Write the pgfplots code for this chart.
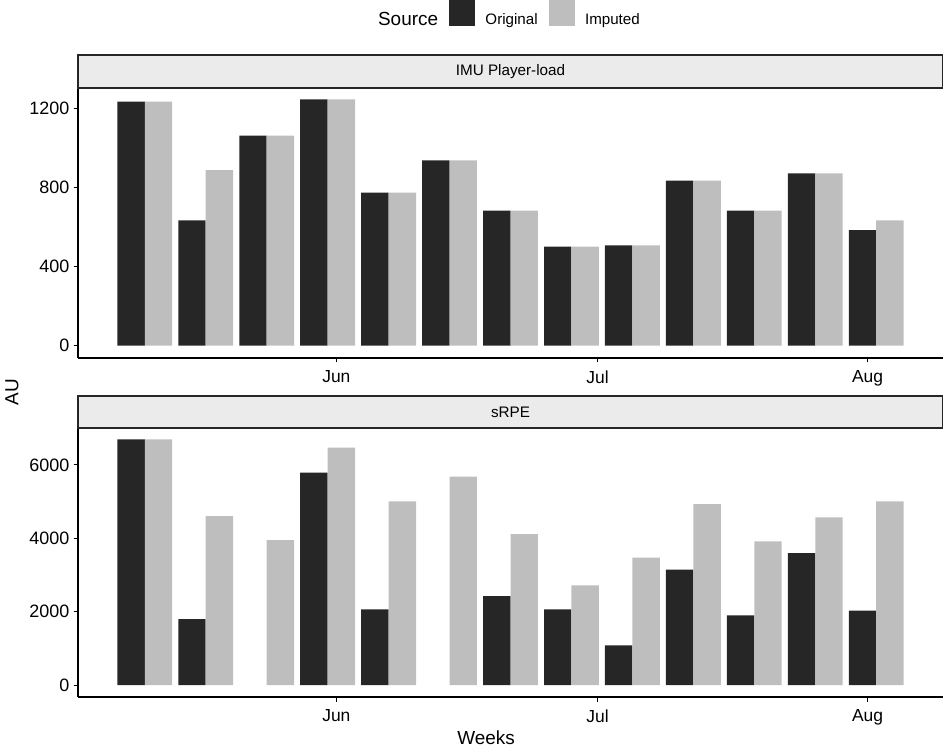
\documentclass[border=0pt]{standalone}
\usepackage{pgfplots}
\pgfplotsset{compat=1.18}
\usepackage{fontspec}
\setmainfont{Liberation Sans}
\definecolor{darkbar}{HTML}{262626}
\definecolor{lightbar}{HTML}{BEBEBE}
\definecolor{stripfill}{HTML}{EBEBEB}
\begin{document}
\begin{tikzpicture}
\useasboundingbox (0,0) rectangle (945bp,747bp);
\pgfplotsset{
  panel/.style={
    scale only axis, width=865bp,
    xmin=-29.67, xmax=69.67,
    axis x line*=bottom, axis y line*=left,
    axis line style={line width=1.1bp, black},
    every tick/.style={black, line width=1bp},
    tick align=outside, major tick length=4.5bp,
    xtick={0,30,61}, xticklabels={Jun,Jul,Aug},
    /pgf/number format/assume math mode=true,
    /pgf/number format/1000 sep={},
    yticklabel style={font=\fontsize{18}{18}\selectfont, inner sep=0pt, xshift=-4bp},
    xticklabel style={font=\fontsize{17.5}{17.5}\selectfont, inner sep=0pt, yshift=-8bp},
    clip=false,
  },
  darkb/.style={ybar, bar width=3.15, fill=darkbar, draw=none, forget plot},
  lightb/.style={ybar, bar width=3.15, fill=lightbar, draw=none, forget plot},
}
% ---------- top panel: IMU Player-load ----------
\begin{axis}[panel, at={(78bp,389bp)}, anchor=south west, height=270bp,
  ymin=-62, ymax=1301, ytick={0,400,800,1200},
  legend columns=-1,
  legend style={at={(axis description cs:0.334,1.276)}, anchor=west, draw=none, fill=none,
    inner sep=0pt, column sep=11bp, font=\fontsize{15.2}{15.2}\selectfont,
    nodes={inner sep=0pt}},
]
\addplot[darkb] coordinates {(-23.575,1232) (-16.575,633) (-9.575,1060) (-2.575,1244) (4.425,773) (11.425,935) (18.425,682) (25.425,500) (32.425,507) (39.425,833) (46.425,682) (53.425,870) (60.425,584)};
\addplot[lightb] coordinates {(-20.425,1232) (-13.425,887) (-6.425,1060) (0.575,1244) (7.575,773) (14.575,935) (21.575,682) (28.575,500) (35.575,507) (42.575,833) (49.575,682) (56.575,870) (63.575,633)};
\addlegendimage{empty legend}
\addlegendentry{\fontsize{19}{19}\selectfont Source}
\addlegendimage{legend image code/.code={\fill[darkbar] (0bp,-5.5bp) rectangle (25bp,19.5bp);}}
\addlegendentry{Original}
\addlegendimage{legend image code/.code={\fill[lightbar] (0bp,-5.5bp) rectangle (25bp,19.5bp);}}
\addlegendentry{Imputed}
\draw[fill=stripfill, draw=black!85, line width=1.1bp] (rel axis cs:0,1) rectangle (rel axis cs:0.999,1.1222);
\node[font=\fontsize{15.3}{15.3}\selectfont] at (rel axis cs:0.5,1.0611) {IMU Player-load};
\end{axis}
% ---------- bottom panel: sRPE ----------
\begin{axis}[panel, at={(78bp,50bp)}, anchor=south west, height=269bp,
  ymin=-327, ymax=7009, ytick={0,2000,4000,6000},
]
\addplot[darkb] coordinates {(-23.575,6700) (-16.575,1800) (-2.575,5790) (4.425,2064) (18.425,2427) (25.425,2064) (32.425,1082) (39.425,3145) (46.425,1900) (53.425,3600) (60.425,2027)};
\addplot[lightb] coordinates {(-20.425,6700) (-13.425,4609) (-6.425,3954) (0.575,6472) (7.575,5009) (14.575,5681) (21.575,4118) (28.575,2718) (35.575,3472) (42.575,4936) (49.575,3918) (56.575,4573) (63.575,5009)};
\draw[fill=stripfill, draw=black!85, line width=1.1bp] (rel axis cs:0,1) rectangle (rel axis cs:0.999,1.119);
\node[font=\fontsize{15.3}{15.3}\selectfont] at (rel axis cs:0.5,1.0595) {sRPE};
\end{axis}
\node[font=\fontsize{19}{19}\selectfont] at (486bp,9bp) {Weeks};
\node[font=\fontsize{19}{19}\selectfont, rotate=90] at (12bp,355bp) {AU};
\end{tikzpicture}
\end{document}
